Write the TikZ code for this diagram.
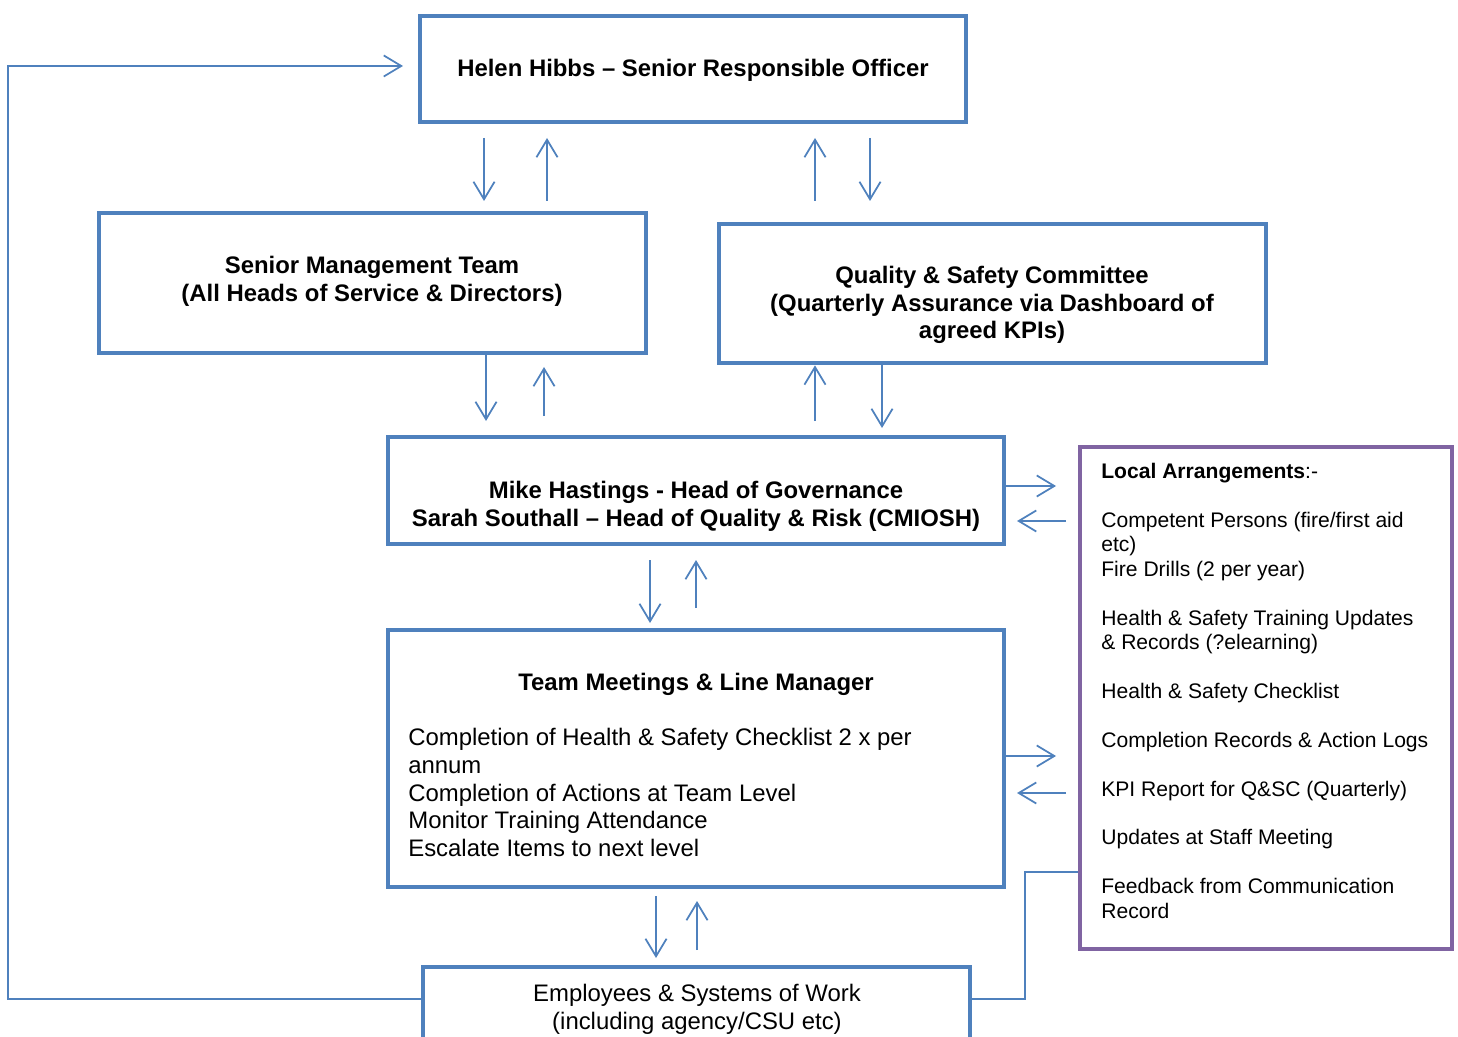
\documentclass[tikz,border=0pt]{standalone}
\usepackage{fontspec}
\setmainfont{Liberation Sans}
\usetikzlibrary{arrows.meta}

\definecolor{boxblue}{HTML}{4F81BD}
\definecolor{boxpurple}{HTML}{8064A2}

\tikzset{
  box/.style={draw=boxblue, line width=2.7pt, rectangle, fill=white},
  localbox/.style={draw=boxpurple, line width=2.7pt, rectangle, fill=white},
  arr/.style={draw=boxblue, line width=1pt, -{Straight Barb[length=10pt,width=12pt]}},
  link/.style={draw=boxblue, line width=1pt},
  bigtxt/.style={font=\fontsize{13.6}{15.8}\selectfont, align=center, inner sep=0pt},
  smalltxt/.style={font=\fontsize{12}{13.9}\selectfont, align=left, inner sep=0pt}
}

\begin{document}
\begin{tikzpicture}[x=0.02cm, y=-0.02cm]
    \useasboundingbox (0,0) rectangle (1458,1037);
    \clip (0,0) rectangle (1458,1037);

    % Boxes
    \node[box, minimum width=10.92cm, minimum height=2.12cm] (helen) at (693,69) {};
    \node[box, minimum width=10.94cm, minimum height=2.8cm] (smt) at (372.5,283) {};
    \node[box, minimum width=10.94cm, minimum height=2.78cm] (qsc) at (992.5,293.5) {};
    \node[box, minimum width=12.32cm, minimum height=2.14cm] (mike) at (696,490.5) {};
    \node[box, minimum width=12.32cm, minimum height=5.14cm] (team) at (696,758.5) {};
    \node[localbox, minimum width=7.44cm, minimum height=10.04cm] (local) at (1266,698) {};
    \node[box, minimum width=10.94cm, minimum height=2.0cm] (emp) at (696.5,1017) {};

    % Texts
    \node[bigtxt, font=\fontsize{13.6}{15.8}\selectfont\bfseries] (helentxt) at (693,70)
      {Helen Hibbs – Senior Responsible Officer};
    \node[bigtxt, font=\fontsize{13.6}{15.8}\selectfont\bfseries] (smttxt) at (372,281)
      {Senior Management Team\\(All Heads of Service \& Directors)};
    \node[bigtxt, font=\fontsize{13.6}{15.8}\selectfont\bfseries] (qsctxt) at (992,305)
      {Quality \& Safety Committee\\(Quarterly Assurance via Dashboard of\\agreed KPIs)};
    \node[bigtxt, font=\fontsize{13.6}{15.8}\selectfont\bfseries] (miketxt) at (696,506)
      {Mike Hastings - Head of Governance\\Sarah Southall – Head of Quality \& Risk (CMIOSH)};
    \node[bigtxt, font=\fontsize{13.6}{15.8}\selectfont\bfseries] (teamtitle) at (696,684)
      {Team Meetings \& Line Manager};
    \node[bigtxt, align=left, anchor=north west] (teambody) at (408,728)
      {Completion of Health \& Safety Checklist 2 x per\\annum\\
       Completion of Actions at Team Level\\Monitor Training Attendance\\
       Escalate Items to next level};
    \node[smalltxt, anchor=north west] (localtxt) at (1101,463)
      {\textbf{Local Arrangements}:-\\[13.9pt]
       Competent Persons (fire/first aid\\etc)\\Fire Drills (2 per year)\\[13.9pt]
       Health \& Safety Training Updates\\\& Records (?elearning)\\[13.9pt]
       Health \& Safety Checklist\\[13.9pt]
       Completion Records \& Action Logs\\[13.9pt]
       KPI Report for Q\&SC (Quarterly)\\[13.9pt]
       Updates at Staff Meeting\\[13.9pt]
       Feedback from Communication\\Record};
    \node[bigtxt] (emptxt) at (697,1009)
      {Employees \& Systems of Work\\(including agency/CSU etc)};

    % Arrow ends
    \coordinate (a1) at (484,138);  \coordinate (a2) at (484,201);
    \coordinate (a3) at (547,201);  \coordinate (a4) at (547,138);
    \coordinate (a5) at (815,201);  \coordinate (a6) at (815,138);
    \coordinate (a7) at (870,138);  \coordinate (a8) at (870,201);
    \coordinate (b1) at (486,421);
    \coordinate (b2) at (544,416);  \coordinate (b3) at (544,367);
    \coordinate (b4) at (815,421);
    \coordinate (b5) at (882,428);
    \coordinate (c1) at (650,560);  \coordinate (c2) at (650,623);
    \coordinate (c3) at (696,608);  \coordinate (c4) at (696,560);
    \coordinate (d1) at (656,896);  \coordinate (d2) at (656,958);
    \coordinate (d3) at (697,950);  \coordinate (d4) at (697,901);
    \coordinate (e1) at (1056,486);
    \coordinate (e2) at (1066,521); \coordinate (e3) at (1017,521);
    \coordinate (e4) at (1056,756);
    \coordinate (e5) at (1066,793); \coordinate (e6) at (1017,793);
    \coordinate (fl) at (8,999);    \coordinate (ho) at (403,66);
    \coordinate (fr1) at (1025,999); \coordinate (fr2) at (1025,872);

    % Edges
    \draw[arr] (a1) -- (a2);
    \draw[arr] (a3) -- (a4);
    \draw[arr] (a5) -- (a6);
    \draw[arr] (a7) -- (a8);
    \draw[arr] (b1 |- smt.south) -- (b1);
    \draw[arr] (b2) -- (b3);
    \draw[arr] (b4) -- (b4 |- qsc.south);
    \draw[arr] (b5 |- qsc.south) -- (b5);
    \draw[arr] (c1) -- (c2);
    \draw[arr] (c3) -- (c4);
    \draw[arr] (d1) -- (d2);
    \draw[arr] (d3) -- (d4);
    \draw[arr] (e1 -| mike.east) -- (e1);
    \draw[arr] (e2) -- (e3);
    \draw[arr] (e4 -| team.east) -- (e4);
    \draw[arr] (e5) -- (e6);

    % Feedback lines
    \draw[arr] (fl -| emp.west) -- (fl) |- (ho);
    \draw[link] (fr1 -| emp.east) -- (fr1) -- (fr2) -- (fr2 -| local.west);
\end{tikzpicture}
\end{document}
